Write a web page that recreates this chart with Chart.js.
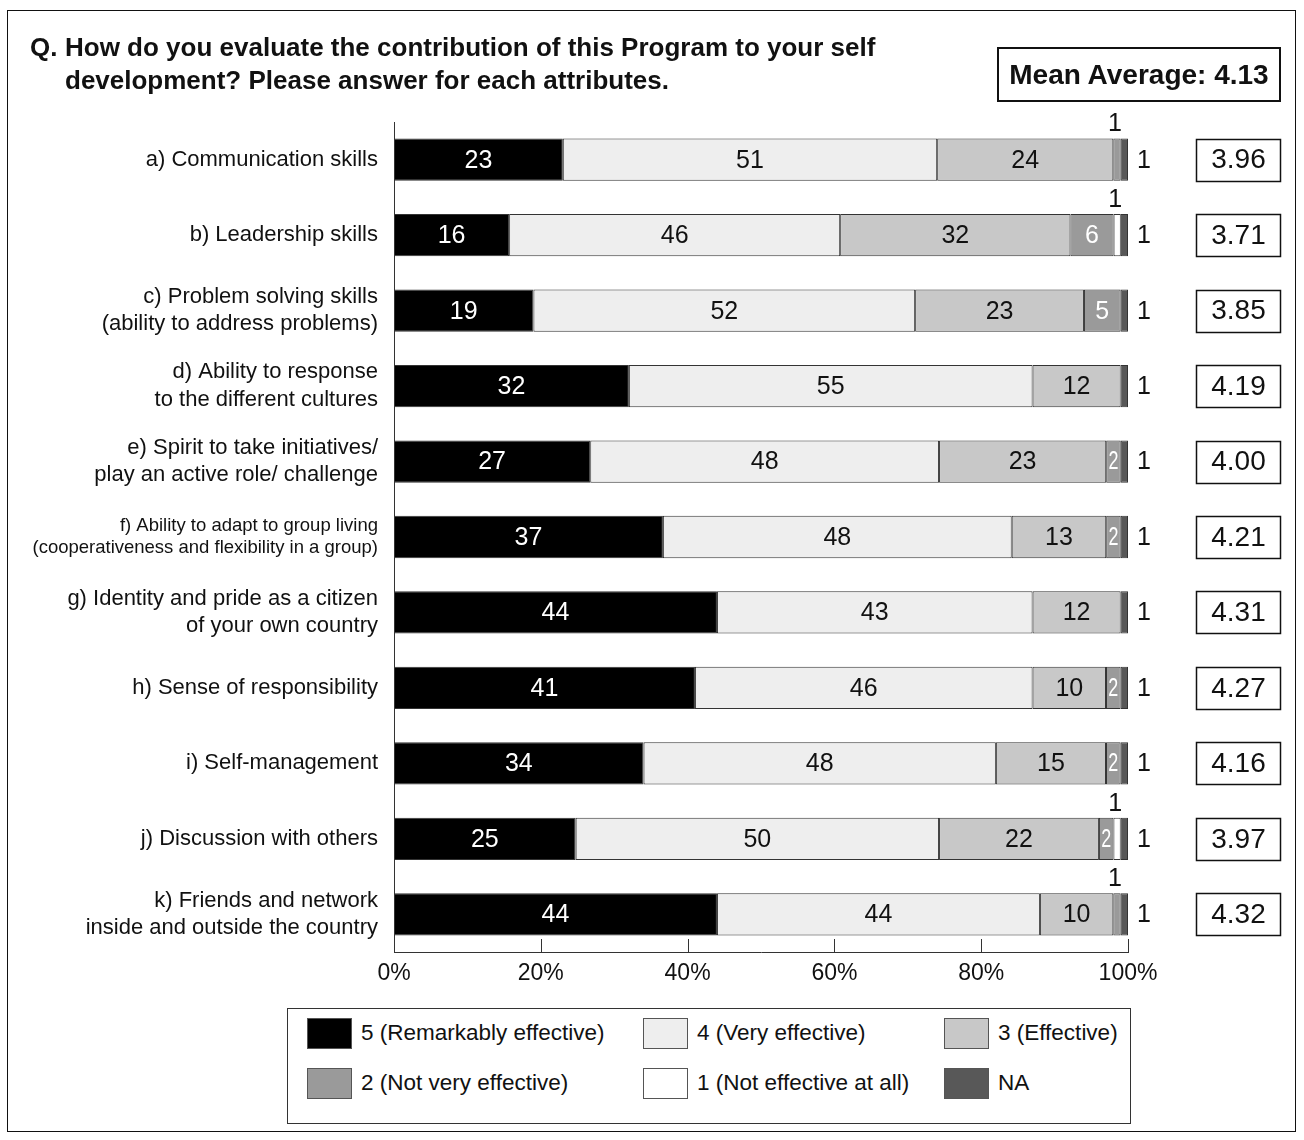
<!DOCTYPE html>
<html>
<head>
<meta charset="utf-8">
<script src="https://cdn.jsdelivr.net/npm/chart.js@4.4.1/dist/chart.umd.min.js"></script>
<style>
  html, body { margin: 0; padding: 0; background: #fff; }
  body { font-family: 'Liberation Sans', Arial, Helvetica, sans-serif; color: #111; }
  #page { position: relative; width: 1304px; height: 1140px; overflow: hidden; }
  #frame { position: absolute; left: 7px; top: 10px; width: 1287px; height: 1120px; border: 1.5px solid #111; }
  #chart { position: absolute; left: 0; top: 0; }
  .q { position: absolute; top: 31px; font-weight: bold; font-size: 26px; line-height: 33px; white-space: nowrap; }
  #qmark { left: 30px; }
  #qtext { left: 65px; }
  #mean { position: absolute; left: 997px; top: 47px; width: 280px; height: 51px; border: 2px solid #111;
          display: flex; align-items: center; justify-content: center; font-weight: bold; font-size: 28px; }
  #legend { position: absolute; left: 287px; top: 1008px; width: 842px; height: 114px; border: 1px solid #333; }
  .sw { position: absolute; width: 43px; height: 29px; border: 1px solid #555; }
  .lt { position: absolute; font-size: 22.5px; line-height: 30px; white-space: nowrap; }
</style>
</head>
<body>
<div id="page">
  <div id="frame"></div>
  <canvas id="chart" width="1304" height="1005"></canvas>
  <div class="q" id="qmark">Q.</div>
  <div class="q" id="qtext">How do you evaluate the contribution of this Program to your self<br>development? Please answer for each attributes.</div>
  <div id="mean"></div>
  <div id="legend"></div>
</div>
<script>
// Attributes and answer shares (%), one array per answer level
const categories = [
  ['a) Communication skills'],
  ['b) Leadership skills'],
  ['c) Problem solving skills', '(ability to address problems)'],
  ['d) Ability to response', 'to the different cultures'],
  ['e) Spirit to take initiatives/', 'play an active role/ challenge'],
  ['f) Ability to adapt to group living', '(cooperativeness and flexibility in a group)'],
  ['g) Identity and pride as a citizen', 'of your own country'],
  ['h) Sense of responsibility'],
  ['i) Self-management'],
  ['j) Discussion with others'],
  ['k) Friends and network', 'inside and outside the country']
];
const remarkably = [23, 16, 19, 32, 27, 37, 44, 41, 34, 25, 44];
const veryEffective = [51, 46, 52, 55, 48, 48, 43, 46, 48, 50, 44];
const effective = [24, 32, 23, 12, 23, 13, 12, 10, 15, 22, 10];
const notVery = [1, 6, 5, 0, 2, 2, 0, 2, 2, 2, 1];
const notAtAll = [0, 1, 0, 0, 0, 0, 0, 0, 0, 1, 0];
const noAnswer = [1, 1, 1, 1, 1, 1, 1, 1, 1, 1, 1];
const means = [3.96, 3.71, 3.85, 4.19, 4.00, 4.21, 4.31, 4.27, 4.16, 3.97, 4.32];
const meanAverage = 4.13;
const xTicks = [0, 20, 40, 60, 80, 100];

const FONT = "'Liberation Sans', Arial, Helvetica, sans-serif";
Chart.defaults.font.family = FONT;
Chart.defaults.color = '#111';

const series = [
  { label: '5 (Remarkably effective)', values: remarkably, color: '#000000', text: '#ffffff' },
  { label: '4 (Very effective)', values: veryEffective, color: '#eeeeee', text: '#111111' },
  { label: '3 (Effective)', values: effective, color: '#c8c8c8', text: '#111111' },
  { label: '2 (Not very effective)', values: notVery, color: '#9a9a9a', text: '#ffffff' },
  { label: '1 (Not effective at all)', values: notAtAll, color: '#ffffff', text: '#111111' },
  { label: 'NA', values: noAnswer, color: '#585858', text: '#ffffff' }
];

// each row is scaled to a 100% bar (rounded shares don't always add up to 100)
const rowTotals = categories.map((_, i) => series.reduce((s, d) => s + d.values[i], 0));

const datasets = series.map(s => ({
  label: s.label,
  raw: s.values,
  textColor: s.text,
  data: s.values.map((v, i) => v ? v / rowTotals[i] * 100 : null),
  backgroundColor: s.color,
  borderColor: '#333',
  borderWidth: 1,
  borderSkipped: false,
  barPercentage: 1,
  categoryPercentage: 0.56
}));

// draws condensed text (narrow segments) by squeezing the canvas horizontally
function narrowText(ctx, str, x, y, squeeze) {
  ctx.save();
  ctx.translate(x, y);
  ctx.scale(squeeze, 1);
  ctx.fillText(str, 0, 0);
  ctx.restore();
}

const segmentLabels = {
  id: 'segmentLabels',
  afterDatasetsDraw(chart) {
    const ctx = chart.ctx;
    const area = chart.chartArea;
    const x = chart.scales.x, y = chart.scales.y;
    ctx.save();

    // short tick marks rising from the bottom axis
    ctx.strokeStyle = '#333';
    ctx.lineWidth = 1;
    xTicks.forEach(t => {
      const px = Math.round(x.getPixelForValue(t)) + 0.5;
      ctx.beginPath();
      ctx.moveTo(px, area.bottom - 13);
      ctx.lineTo(px, area.bottom);
      ctx.stroke();
    });

    ctx.textBaseline = 'middle';
    chart.data.datasets.forEach((ds, di) => {
      const meta = chart.getDatasetMeta(di);
      meta.data.forEach((bar, i) => {
        const v = ds.raw[i];
        if (!v) return;
        const top = bar.y - bar.height / 2;
        const cx = (bar.x + bar.base) / 2;
        ctx.font = '25px ' + FONT;
        if (di === 5) {
          ctx.fillStyle = '#111';
          ctx.textAlign = 'left';
          ctx.fillText(String(v), area.right + 9, bar.y + 1);
        } else if (v === 1) {
          ctx.fillStyle = '#111';
          ctx.textAlign = 'center';
          ctx.fillText(String(v), cx - 2, top - 14);
        } else if (v <= 2) {
          ctx.fillStyle = ds.textColor;
          ctx.textAlign = 'center';
          narrowText(ctx, String(v), cx, bar.y + 1, 0.72);
        } else {
          ctx.fillStyle = ds.textColor;
          ctx.textAlign = 'center';
          ctx.fillText(String(v), cx, bar.y + 1);
        }
      });
    });

    // per-attribute mean boxes
    ctx.lineWidth = 1.5;
    ctx.strokeStyle = '#111';
    ctx.fillStyle = '#111';
    ctx.font = '28px ' + FONT;
    ctx.textAlign = 'center';
    means.forEach((m, i) => {
      const py = y.getPixelForValue(i);
      ctx.strokeRect(1196.5, Math.round(py) - 20.5, 84, 42);
      ctx.fillText(m.toFixed(2), 1238.5, py + 1);
    });
    ctx.restore();
  }
};

const chart = new Chart(document.getElementById('chart'), {
  type: 'bar',
  data: { labels: categories, datasets: datasets },
  options: {
    indexAxis: 'y',
    responsive: false,
    animation: false,
    layout: { padding: { top: 122, right: 176, left: 0, bottom: 0 } },
    plugins: { legend: { display: false }, tooltip: { enabled: false } },
    scales: {
      x: {
        stacked: true,
        min: 0,
        max: 100,
        afterFit: s => { s.height = 53; },
        afterBuildTicks: s => { s.ticks = xTicks.map(v => ({ value: v })); },
        grid: { display: false, drawTicks: false },
        border: { display: true, color: '#333', width: 1 },
        ticks: { padding: 8, color: '#111', font: { size: 23 }, callback: v => v + '%' }
      },
      y: {
        stacked: true,
        afterFit: s => { s.width = 394; },
        grid: { display: false, drawTicks: false },
        border: { display: true, color: '#333', width: 1 },
        ticks: {
          padding: 16,
          color: '#111',
          font: c => c.index === 5
            ? { size: 18.5, lineHeight: 1.2 }
            : { size: 22, lineHeight: 1.25 }
        }
      }
    }
  },
  plugins: [segmentLabels]
});

document.getElementById('mean').textContent = 'Mean Average: ' + meanAverage.toFixed(2);

// legend built from the chart's datasets, three per row
const legendEl = document.getElementById('legend');
const swatchX = [19, 355, 656];
const rowY = [24, 74];
chart.data.datasets.forEach((ds, i) => {
  const col = i % 3, row = Math.floor(i / 3);
  const sw = document.createElement('div');
  sw.className = 'sw';
  sw.style.left = swatchX[col] + 'px';
  sw.style.top = (rowY[row] - 15) + 'px';
  sw.style.background = ds.backgroundColor;
  legendEl.appendChild(sw);
  const lt = document.createElement('div');
  lt.className = 'lt';
  lt.style.left = (swatchX[col] + 54) + 'px';
  lt.style.top = (rowY[row] - 15) + 'px';
  lt.textContent = ds.label;
  legendEl.appendChild(lt);
});
</script>
</body>
</html>
